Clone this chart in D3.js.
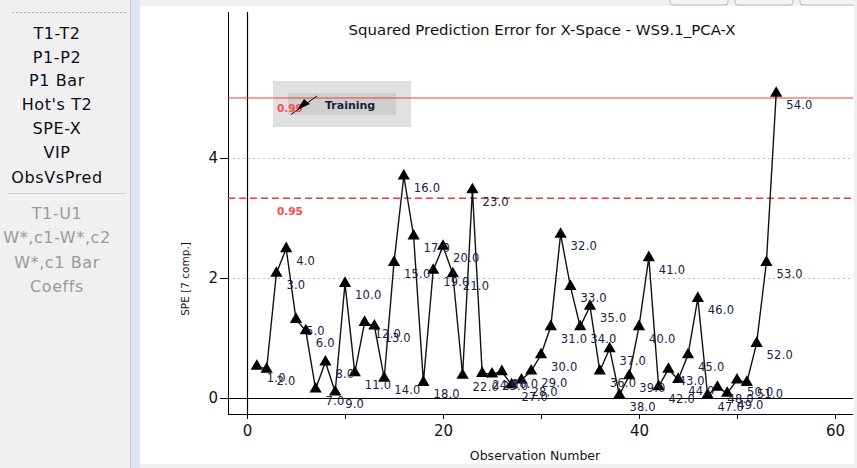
<!DOCTYPE html>
<html><head><meta charset="utf-8">
<script src="https://cdn.jsdelivr.net/npm/d3@7/dist/d3.min.js"></script>
<style>html,body{margin:0;padding:0;background:#fff;overflow:hidden}svg{display:block}</style>
</head><body>
<script>
// ---------- data ----------
const observations = [1,2,3,4,5,6,7,8,9,10,11,12,13,14,15,16,17,18,19,20,21,22,23,24,25,26,27,
  28,29,30,31,32,33,34,35,36,37,38,39,40,41,42,43,44,45,46,47,48,49,50,51,52,53,54];
const speValues = [0.53,0.48,2.08,2.49,1.31,1.12,0.15,0.60,0.10,1.91,0.42,1.26,1.20,0.33,2.26,3.70,2.70,
  0.26,2.13,2.53,2.07,0.38,3.47,0.41,0.40,0.44,0.22,0.30,0.45,0.72,1.19,2.73,1.86,1.19,1.53,0.45,0.82,
  0.05,0.37,1.19,2.34,0.19,0.48,0.31,0.72,1.66,0.05,0.18,0.08,0.30,0.26,0.91,2.26,5.08];
const limitLabels = ["0.99","0.95"];
const limitValues = [5.0, 3.33];
const yTicks = [0,2,4];
const xTicks = [0,20,40,60];
const xMinorTicks = [10,30,50];
const menuActive = ["T1-T2","P1-P2","P1 Bar","Hot's T2","SPE-X","VIP","ObsVsPred"];
const menuDisabled = ["T1-U1","W*,c1-W*,c2","W*,c1 Bar","Coeffs"];
const titleText = "Squared Prediction Error for X-Space - WS9.1_PCA-X";
const xTitle = "Observation Number";
const yTitle = "SPE [7 comp.]";
const legendText = "Training";

// ---------- layout ----------
const W = 857, H = 468;
const svg = d3.select("body").append("svg").attr("width", W).attr("height", H);
const FONT = "DejaVu Sans, Verdana, sans-serif";

// backgrounds
svg.append("rect").attr("x",0).attr("y",0).attr("width",W).attr("height",H).attr("fill","#ffffff");
svg.append("rect").attr("x",0).attr("y",0).attr("width",130).attr("height",H).attr("fill","#f0f0f0");
svg.append("line").attr("x1",130.5).attr("x2",130.5).attr("y1",0).attr("y2",H).attr("stroke","#c9c9c9");
svg.append("rect").attr("x",131).attr("y",0).attr("width",9).attr("height",H).attr("fill","#dde7f3");
svg.append("rect").attr("x",140).attr("y",0).attr("width",W-140).attr("height",6).attr("fill","#f0f0f0");
[[670,728],[735,793],[800,860]].forEach(([a,b])=>{
  svg.append("rect").attr("x",a).attr("y",-8).attr("width",b-a).attr("height",13).attr("rx",3)
    .attr("fill","#f4f4f4").attr("stroke","#b8b8b8");
});
svg.append("rect").attr("x",140).attr("y",464).attr("width",W-140).attr("height",4).attr("fill","#efefef");
svg.append("rect").attr("x",854).attr("y",0).attr("width",3).attr("height",H).attr("fill","#efefef");

// left menu
svg.append("line").attr("x1",12).attr("x2",126).attr("y1",12.5).attr("y2",12.5)
  .attr("stroke","#aaaaaa").attr("stroke-dasharray","2,2");
const menuY = [33,57,80,104,128,152,177];
menuActive.forEach((t,i)=>{
  svg.append("text").attr("x",57).attr("y",menuY[i]+6).attr("text-anchor","middle")
    .attr("font-family",FONT).attr("font-size",16).attr("letter-spacing",0.6)
    .attr("fill","#0c0c18").text(t);
});
svg.append("line").attr("x1",8).attr("x2",126).attr("y1",193.5).attr("y2",193.5).attr("stroke","#cfcfcf");
const menuY2 = [213,237,262,286];
menuDisabled.forEach((t,i)=>{
  svg.append("text").attr("x",57).attr("y",menuY2[i]+6).attr("text-anchor","middle")
    .attr("font-family",FONT).attr("font-size",16).attr("letter-spacing",0.6)
    .attr("fill","#9a9a9a").text(t);
});

// ---------- chart ----------
const plotL = 228, plotR = 853, plotT = 12, plotB = 414;
const x = d3.scaleLinear().domain([0,60]).range([247,835]);
const y = d3.scaleLinear().domain([0,5]).range([398,98]);

// title
const title = svg.append("text").attr("x",542).attr("y",35).attr("text-anchor","middle")
  .attr("font-family",FONT).attr("font-size",13).attr("fill","#111").text(titleText);
const tw = title.node().getComputedTextLength();
title.attr("font-size", 13*387/tw);

// legend box (drawn below lines)
svg.append("rect").attr("x",273).attr("y",81).attr("width",138).attr("height",46).attr("fill","#e0e0e0");
svg.append("rect").attr("x",288).attr("y",93).attr("width",108).attr("height",22).attr("fill","#cfcfcf");

// gridlines
svg.selectAll("line.grid").data(yTicks.filter(d=>d>0)).enter().append("line")
  .attr("x1",plotL).attr("x2",plotR).attr("y1",d=>Math.round(y(d))+0.5).attr("y2",d=>Math.round(y(d))+0.5)
  .attr("stroke","#bdbdbd").attr("stroke-dasharray","2,3");

// frame
svg.append("line").attr("x1",plotL+0.5).attr("x2",plotL+0.5).attr("y1",plotT).attr("y2",plotB).attr("stroke","#000");
// x=0 line
svg.append("line").attr("x1",Math.round(x(0))+0.5).attr("x2",Math.round(x(0))+0.5)
  .attr("y1",plotT).attr("y2",plotB).attr("stroke","#000").attr("stroke-width",1.2);
// zero line
svg.append("line").attr("x1",220).attr("x2",plotR).attr("y1",Math.round(y(0))+0.5).attr("y2",Math.round(y(0))+0.5)
  .attr("stroke","#000");

// bottom axis
const xAxis = d3.axisBottom(x).tickValues(xTicks.concat(xMinorTicks).sort((a,b)=>a-b))
  .tickSize(5).tickSizeOuter(0).tickFormat(d=>xTicks.includes(d)?d:"");
const gx = svg.append("g").attr("transform",`translate(0,${plotB})`).call(xAxis);
gx.select(".domain").attr("d",`M${plotL},0.5H${plotR}`).attr("stroke","#000");
gx.selectAll("text").attr("font-family",FONT).attr("font-size",15).attr("fill","#111").attr("dy","0.9em");

// left axis ticks
const yAxis = d3.axisLeft(y).tickValues(yTicks).tickSize(8).tickSizeOuter(0).tickFormat(d3.format("d"));
const gy = svg.append("g").attr("transform",`translate(${plotL},0)`).call(yAxis);
gy.select(".domain").remove();
gy.selectAll("text").attr("font-family",FONT).attr("font-size",15).attr("fill","#111").attr("x",-10);

// axis titles
svg.append("text").attr("x",535).attr("y",460).attr("text-anchor","middle")
  .attr("font-family",FONT).attr("font-size",12.5).attr("fill","#111").text(xTitle);
svg.append("text").attr("transform","translate(189,279) rotate(-90)").attr("text-anchor","middle")
  .attr("font-family",FONT).attr("font-size",10.5).attr("fill","#111").text(yTitle);

// limit lines
svg.append("line").attr("x1",plotL).attr("x2",plotR).attr("y1",y(limitValues[0])).attr("y2",y(limitValues[0]))
  .attr("stroke","#f04040").attr("stroke-width",1.2);
svg.append("line").attr("x1",plotL).attr("x2",plotR).attr("y1",y(limitValues[1])).attr("y2",y(limitValues[1]))
  .attr("stroke","#f03a3a").attr("stroke-width",1.5).attr("stroke-dasharray","7,4");
limitValues.forEach((v,i)=>{
  svg.append("text").attr("x",277).attr("y",y(v)+(i===0?14:17)).attr("font-family",FONT)
    .attr("font-size",10.5).attr("font-weight","bold").attr("fill","#ff4a4a").text(limitLabels[i]);
});

// legend symbol & text
svg.append("line").attr("x1",317).attr("y1",96).attr("x2",291).attr("y2",114.5).attr("stroke","#000").attr("stroke-width",1);
svg.append("path").attr("d","M297,110 L310,104 L304,99 Z").attr("fill","#000");
svg.append("text").attr("x",325).attr("y",109).attr("font-family",FONT).attr("font-size",11)
  .attr("font-weight","bold").attr("fill","#1b1b3a").text(legendText);

// series
const pts = observations.map((o,i)=>({o, v: speValues[i]}));
svg.append("path").datum(pts)
  .attr("d", d3.line().x(d=>x(d.o)).y(d=>y(d.v)))
  .attr("fill","none").attr("stroke","#111").attr("stroke-width",1.4);
svg.selectAll("path.tri").data(pts).enter().append("path")
  .attr("transform",d=>`translate(${x(d.o)},${y(d.v)})`)
  .attr("d", d3.symbol().type(d3.symbolTriangle).size(65))
  .attr("fill","#000");
svg.selectAll("text.lbl").data(pts).enter().append("text")
  .attr("x",d=>x(d.o)+10).attr("y",d=>y(d.v)+16)
  .attr("font-family",FONT).attr("font-size",11.5).attr("letter-spacing",0.2).attr("fill","#20203f")
  .text(d=>d.o.toFixed(1));
</script>
</body></html>
